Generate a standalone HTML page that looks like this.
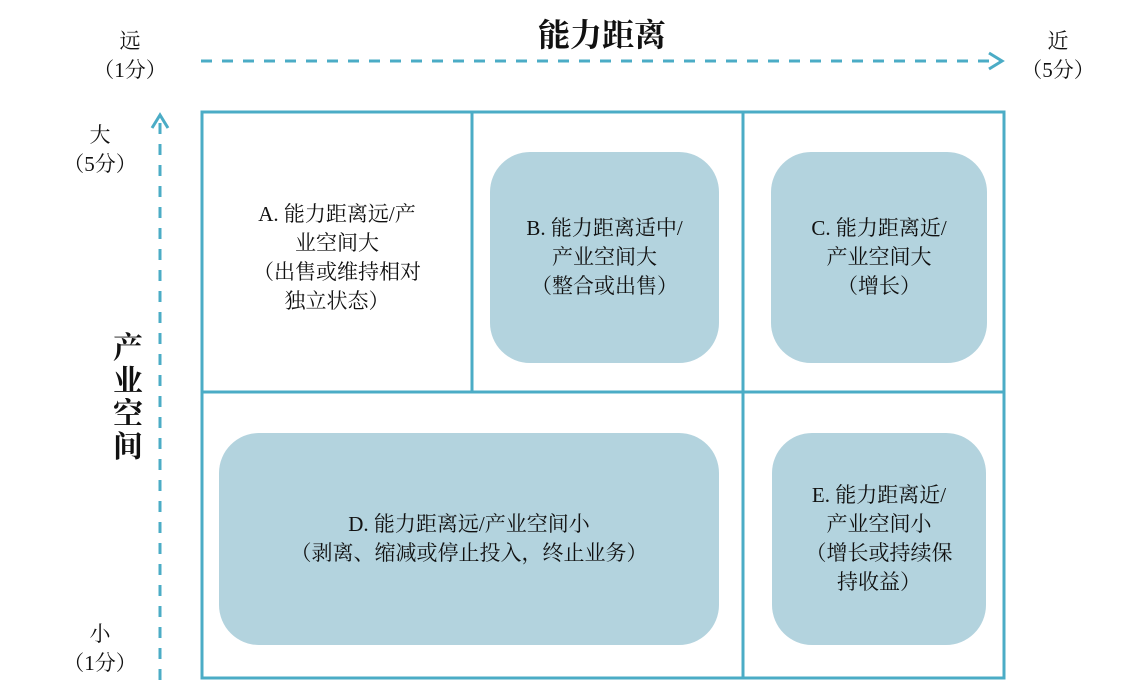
<!DOCTYPE html>
<html><head><meta charset="utf-8"><style>
body{margin:0;width:1127px;height:692px;background:#fff;position:relative;overflow:hidden;font-family:"Liberation Serif","Noto Serif CJK SC",serif;color:#111}
.t{position:absolute;text-align:center;font-size:21px;line-height:29px;white-space:nowrap}
.box{position:absolute;background:#b3d3de;border-radius:40px;display:flex;align-items:center;justify-content:center;text-align:center;font-size:21px;line-height:29px}
</style></head><body>
<svg width="1127" height="692" style="position:absolute;left:0;top:0">
<g stroke="#4bacc6" fill="none">
<rect x="202" y="112" width="802" height="566" stroke-width="3"/>
<line x1="472" y1="112" x2="472" y2="392" stroke-width="3"/>
<line x1="743" y1="112" x2="743" y2="678" stroke-width="3"/>
<line x1="202" y1="392" x2="1004" y2="392" stroke-width="3"/>
<line x1="201" y1="61" x2="1000" y2="61" stroke-width="3" stroke-dasharray="11,10"/>
<polyline points="989,53 1002,61 989,69" stroke-width="3"/>
<line x1="160" y1="680" x2="160" y2="116" stroke-width="3" stroke-dasharray="11,10"/>
<polyline points="152,128 160,115 168,128" stroke-width="3"/>
</g></svg>
<div class="t" style="left:502px;top:14px;width:200px;font-size:32px;font-weight:bold;line-height:42px">能力距离</div>
<div class="t" style="left:90px;top:27px;width:80px">远<br>（1分）</div>
<div class="t" style="left:1018px;top:27px;width:80px">近<br>（5分）</div>
<div class="t" style="left:60px;top:121px;width:80px">大<br>（5分）</div>
<div class="t" style="left:60px;top:620px;width:80px">小<br>（1分）</div>
<div class="t" style="left:108px;top:332px;width:40px;font-size:30px;font-weight:bold;line-height:33px;white-space:normal">产业空间</div>
<div class="t" style="left:202px;top:200px;width:270px">A. 能力距离远/产<br>业空间大<br>（出售或维持相对<br>独立状态）</div>
<div class="box" style="left:490px;top:152px;width:229px;height:211px">B. 能力距离适中/<br>产业空间大<br>（整合或出售）</div>
<div class="box" style="left:771px;top:152px;width:216px;height:211px">C. 能力距离近/<br>产业空间大<br>（增长）</div>
<div class="box" style="left:219px;top:433px;width:500px;height:212px">D. 能力距离远/产业空间小<br>（剥离、缩减或停止投入，终止业务）</div>
<div class="box" style="left:772px;top:433px;width:214px;height:212px">E. 能力距离近/<br>产业空间小<br>（增长或持续保<br>持收益）</div>
</body></html>
